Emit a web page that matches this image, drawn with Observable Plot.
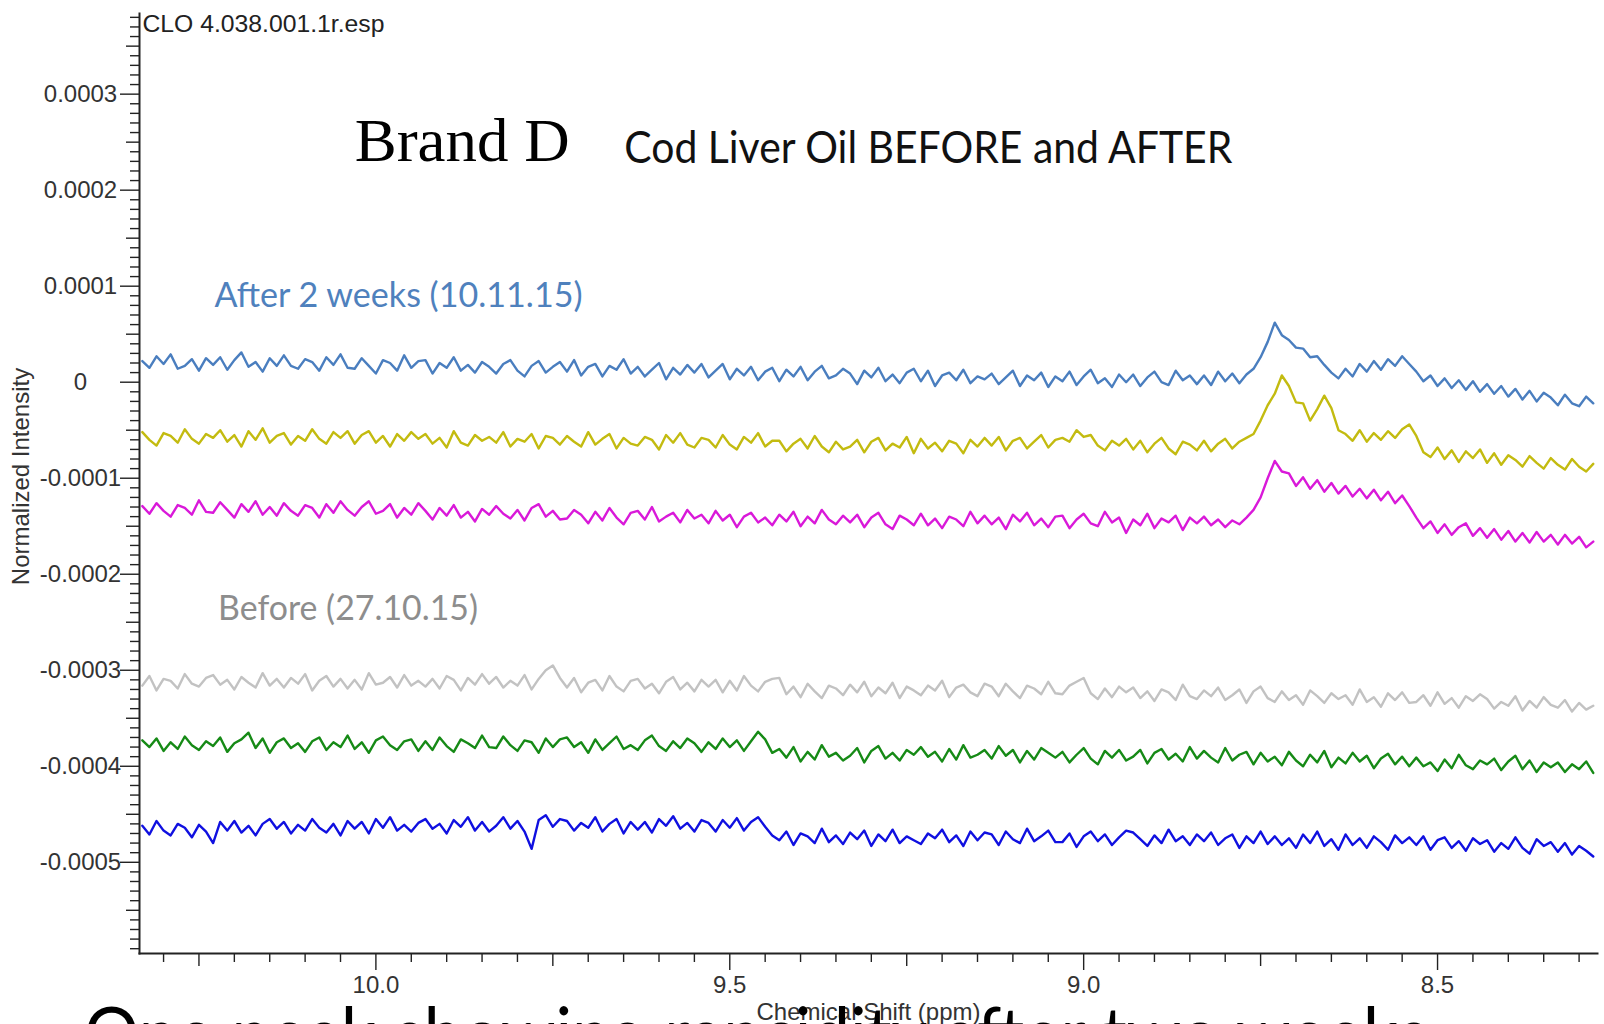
<!DOCTYPE html>
<html>
<head>
<meta charset="utf-8">
<script src="https://cdn.jsdelivr.net/npm/d3@7"></script>
<script src="https://cdn.jsdelivr.net/npm/@observablehq/plot@0.6"></script>
<style>
  html, body { margin: 0; padding: 0; background: #fff; }
  body { width: 1604px; height: 1024px; overflow: hidden; }
  #chart svg { display: block; }
  #caption { font-family: Lato, "Open Sans", sans-serif; font-size: 74px; line-height: 40px; height: 40px; color: #000;
             white-space: nowrap; margin-top: -12px; padding-left: 84px; position: relative; }
  #caption span { display: inline-block; transform-origin: 0 0; line-height: 40px; }
</style>
</head>
<body>
<div id="chart"></div>
<div id="caption"><span>One peak showing rancidity after two weeks</span></div>
<script>
// ---- chemical shift grid (ppm) ----
const ppm = [
  10.33,10.32,10.31,10.30,10.29,10.28,10.27,10.26,10.25,10.24,
  10.23,10.22,10.21,10.20,10.19,10.18,10.17,10.16,10.15,10.14,
  10.13,10.12,10.11,10.10,10.09,10.08,10.07,10.06,10.05,10.04,
  10.03,10.02,10.01,10.00,9.99,9.98,9.97,9.96,9.95,9.94,
  9.93,9.92,9.91,9.90,9.89,9.88,9.87,9.86,9.85,9.84,
  9.83,9.82,9.81,9.80,9.79,9.78,9.77,9.76,9.75,9.74,
  9.73,9.72,9.71,9.70,9.69,9.68,9.67,9.66,9.65,9.64,
  9.63,9.62,9.61,9.60,9.59,9.58,9.57,9.56,9.55,9.54,
  9.53,9.52,9.51,9.50,9.49,9.48,9.47,9.46,9.45,9.44,
  9.43,9.42,9.41,9.40,9.39,9.38,9.37,9.36,9.35,9.34,
  9.33,9.32,9.31,9.30,9.29,9.28,9.27,9.26,9.25,9.24,
  9.23,9.22,9.21,9.20,9.19,9.18,9.17,9.16,9.15,9.14,
  9.13,9.12,9.11,9.10,9.09,9.08,9.07,9.06,9.05,9.04,
  9.03,9.02,9.01,9.00,8.99,8.98,8.97,8.96,8.95,8.94,
  8.93,8.92,8.91,8.90,8.89,8.88,8.87,8.86,8.85,8.84,
  8.83,8.82,8.81,8.80,8.79,8.78,8.77,8.76,8.75,8.74,
  8.73,8.72,8.71,8.70,8.69,8.68,8.67,8.66,8.65,8.64,
  8.63,8.62,8.61,8.60,8.59,8.58,8.57,8.56,8.55,8.54,
  8.53,8.52,8.51,8.50,8.49,8.48,8.47,8.46,8.45,8.44,
  8.43,8.42,8.41,8.40,8.39,8.38,8.37,8.36,8.35,8.34,
  8.33,8.32,8.31,8.30,8.29,8.28
];

// ---- normalized intensity, in units of 1e-6 ----
const afterTrace1 = [
  22,15,27,19,29,14,17,24,12,25,
  18,26,13,23,31,16,21,11,25,17,
  28,17,14,24,21,12,26,18,29,15,
  14,25,17,9,23,20,12,28,15,22,
  23,9,20,15,26,12,18,10,21,16,
  9,19,23,12,6,17,22,10,16,21,
  11,23,7,16,19,6,17,13,24,9,
  16,6,13,20,3,15,8,18,10,19,
  5,12,19,3,14,7,16,2,11,15,
  1,13,6,16,2,11,17,4,7,14,
  9,-2,12,5,15,1,8,-1,10,14,
  1,12,-4,7,10,2,13,-1,6,3,
  9,-2,5,12,-4,7,2,10,-5,6,
  1,11,-3,6,13,-1,4,-5,8,0,
  8,-4,5,11,0,-3,12,2,7,-2,
  7,-3,11,1,9,-1,8,14,26,42,
  62,49,44,36,35,26,27,18,10,4,
  14,6,19,11,22,13,24,17,27,19,
  11,1,7,-4,4,-6,2,-8,1,-10,
  -2,-12,-4,-15,-7,-18,-9,-20,-11,-16,
  -24,-13,-22,-25,-15,-22
];
const afterTrace2 = [
  -52,-60,-66,-53,-56,-63,-49,-59,-64,-54,
  -58,-50,-62,-55,-67,-51,-60,-48,-63,-56,
  -53,-65,-56,-61,-49,-59,-64,-52,-58,-51,
  -64,-55,-51,-63,-56,-67,-54,-61,-52,-59,
  -54,-64,-58,-68,-51,-63,-66,-55,-61,-57,
  -63,-52,-67,-59,-62,-54,-69,-56,-58,-65,
  -56,-62,-67,-52,-65,-59,-54,-69,-58,-64,
  -66,-57,-60,-70,-55,-63,-53,-65,-68,-58,
  -60,-68,-55,-65,-70,-57,-63,-53,-67,-61,
  -61,-72,-64,-59,-69,-56,-67,-73,-62,-70,
  -67,-60,-73,-62,-58,-71,-64,-68,-57,-74,
  -59,-69,-63,-72,-61,-64,-74,-60,-67,-58,
  -66,-57,-71,-61,-58,-69,-62,-55,-68,-60,
  -58,-62,-50,-57,-55,-66,-71,-61,-66,-59,
  -70,-61,-73,-64,-58,-69,-75,-62,-65,-71,
  -61,-72,-64,-59,-69,-62,-58,-54,-40,-24,
  -12,7,-4,-21,-22,-40,-28,-14,-27,-50,
  -54,-61,-50,-62,-53,-60,-51,-58,-49,-44,
  -56,-73,-78,-68,-80,-71,-83,-72,-79,-70,
  -84,-74,-86,-76,-81,-88,-77,-84,-90,-79,
  -86,-91,-80,-88,-93,-85
];
const afterTrace3 = [
  -129,-137,-126,-134,-140,-128,-131,-138,-123,-135,
  -136,-125,-133,-141,-127,-135,-124,-138,-130,-139,
  -126,-134,-139,-128,-131,-141,-127,-136,-124,-133,
  -139,-130,-124,-137,-134,-127,-141,-131,-138,-126,
  -134,-143,-131,-139,-128,-141,-135,-145,-132,-138,
  -129,-137,-142,-133,-144,-131,-127,-140,-134,-143,
  -142,-133,-138,-147,-135,-144,-131,-141,-148,-136,
  -134,-143,-130,-145,-140,-136,-146,-133,-142,-138,
  -147,-134,-144,-138,-151,-140,-136,-146,-141,-149,
  -138,-145,-135,-150,-140,-147,-133,-143,-148,-139,
  -146,-138,-151,-141,-136,-148,-153,-139,-143,-149,
  -137,-149,-142,-152,-140,-143,-150,-135,-147,-139,
  -148,-141,-153,-138,-145,-136,-149,-142,-151,-140,
  -139,-152,-143,-137,-147,-150,-135,-146,-141,-157,
  -143,-149,-137,-152,-142,-146,-139,-154,-141,-147,
  -140,-149,-143,-151,-144,-148,-141,-133,-120,-100,
  -82,-93,-95,-108,-99,-111,-102,-114,-105,-116,
  -108,-119,-111,-121,-112,-123,-114,-126,-118,-129,
  -141,-152,-145,-157,-148,-159,-151,-147,-160,-152,
  -162,-153,-164,-155,-166,-157,-167,-156,-166,-159,
  -169,-159,-168,-161,-172,-166
];
const beforeTrace1 = [
  -316,-306,-321,-309,-311,-319,-304,-314,-317,-308,
  -305,-315,-310,-320,-307,-313,-318,-303,-316,-309,
  -318,-308,-314,-304,-321,-311,-306,-317,-309,-319,
  -310,-320,-303,-315,-313,-307,-318,-305,-316,-311,
  -317,-309,-319,-306,-310,-321,-308,-315,-304,-314,
  -307,-318,-311,-316,-305,-320,-309,-300,-295,-308,
  -318,-308,-323,-313,-310,-321,-306,-317,-322,-311,
  -309,-319,-314,-324,-312,-307,-320,-313,-322,-310,
  -317,-310,-323,-311,-321,-306,-316,-322,-312,-309,
  -308,-325,-317,-328,-314,-322,-329,-316,-319,-326,
  -315,-323,-312,-327,-318,-324,-313,-329,-317,-321,
  -326,-316,-321,-311,-328,-318,-315,-323,-327,-314,
  -317,-327,-314,-322,-329,-316,-319,-325,-312,-324,
  -325,-316,-312,-308,-324,-330,-319,-328,-317,-323,
  -318,-329,-322,-332,-320,-323,-331,-315,-327,-330,
  -321,-327,-318,-331,-326,-320,-334,-322,-317,-329,
  -333,-322,-331,-326,-336,-321,-327,-334,-324,-330,
  -326,-336,-320,-333,-328,-338,-324,-331,-323,-334,
  -333,-326,-337,-323,-335,-329,-339,-327,-332,-325,
  -330,-340,-333,-337,-327,-342,-332,-339,-328,-336,
  -339,-331,-343,-334,-341,-337
];
const beforeTrace2 = [
  -373,-380,-371,-384,-375,-382,-369,-378,-383,-374,
  -379,-370,-385,-376,-372,-365,-381,-371,-386,-375,
  -371,-381,-376,-385,-374,-370,-383,-375,-380,-368,
  -382,-375,-386,-373,-369,-378,-383,-374,-372,-384,
  -374,-383,-370,-379,-385,-372,-376,-381,-368,-380,
  -381,-369,-378,-384,-373,-375,-386,-371,-380,-372,
  -370,-380,-375,-386,-372,-383,-376,-369,-382,-378,
  -383,-373,-368,-379,-384,-374,-381,-371,-376,-385,
  -375,-382,-371,-380,-373,-384,-374,-364,-372,-386,
  -382,-391,-380,-395,-385,-393,-378,-390,-386,-394,
  -389,-381,-396,-384,-379,-392,-386,-394,-383,-388,
  -380,-390,-385,-395,-382,-393,-378,-391,-388,-383,
  -392,-379,-389,-383,-396,-384,-393,-381,-386,-391,
  -385,-396,-388,-381,-392,-398,-384,-391,-383,-394,
  -390,-383,-397,-386,-382,-393,-387,-395,-380,-392,
  -384,-391,-396,-381,-394,-388,-385,-398,-386,-395,
  -390,-399,-385,-394,-400,-388,-396,-384,-401,-391,
  -397,-386,-395,-389,-402,-392,-387,-398,-390,-400,
  -391,-400,-396,-405,-393,-402,-388,-399,-403,-394,
  -398,-392,-404,-395,-389,-403,-394,-406,-396,-401,
  -396,-406,-398,-403,-395,-407
];
const beforeTrace3 = [
  -462,-471,-457,-467,-472,-460,-464,-474,-461,-468,
  -480,-458,-467,-457,-469,-462,-472,-460,-455,-465,
  -458,-470,-461,-467,-455,-464,-469,-460,-472,-457,
  -465,-458,-470,-455,-464,-453,-467,-461,-468,-459,
  -455,-465,-460,-470,-456,-463,-453,-467,-458,-468,
  -462,-453,-465,-457,-468,-486,-456,-451,-463,-455,
  -457,-467,-459,-464,-453,-468,-460,-455,-470,-458,
  -466,-458,-469,-455,-462,-452,-465,-459,-468,-456,
  -459,-468,-456,-464,-454,-467,-458,-453,-463,-472,
  -477,-468,-482,-470,-473,-480,-465,-479,-472,-481,
  -469,-476,-467,-483,-471,-478,-466,-480,-473,-477,
  -481,-470,-475,-466,-479,-472,-483,-468,-477,-469,
  -471,-482,-468,-476,-480,-465,-478,-473,-467,-479,
  -479,-470,-484,-473,-468,-478,-471,-482,-474,-467,
  -469,-476,-483,-472,-480,-466,-478,-473,-482,-471,
  -478,-469,-482,-475,-471,-485,-473,-480,-468,-481,
  -473,-482,-475,-485,-471,-480,-468,-483,-476,-487,
  -471,-482,-475,-485,-473,-479,-487,-472,-480,-474,
  -482,-473,-487,-477,-474,-485,-478,-488,-475,-481,
  -477,-489,-480,-486,-474,-485,-491,-476,-483,-479,
  -489,-480,-492,-483,-488,-494
];

const seriesNames = ["After 2 weeks – A", "After 2 weeks – B", "After 2 weeks – C",
                     "Before – A", "Before – B", "Before – C"];
const seriesColors = ["#4a7ebf", "#c3bb10", "#d919d9", "#c2c2c2", "#168a16", "#1010e0"];
const seriesValues = [afterTrace1, afterTrace2, afterTrace3, beforeTrace1, beforeTrace2, beforeTrace3];

// ---- axis ticks ----
const yMajor = [0.0003, 0.0002, 0.0001, 0, -0.0001, -0.0002, -0.0003, -0.0004, -0.0005];
const yTickLabels = ["0.0003", "0.0002", "0.0001", "0", "-0.0001", "-0.0002", "-0.0003", "-0.0004", "-0.0005"];
const yMid = [0.00035, 0.00025, 0.00015, 0.00005, -0.00005, -0.00015, -0.00025, -0.00035, -0.00045, -0.00055];
const xMajor = [10.0, 9.5, 9.0, 8.5];
const xTickLabels = ["10.0", "9.5", "9.0", "8.5"];
const xMid = [10.25, 9.75, 9.25, 8.75];

// ---- annotations ----
const fileLabel = "CLO 4.038.001.1r.esp";
const titleMain = "Brand D";
const titleSub = "Cod Liver Oil BEFORE and AFTER";
const labelAfter = "After 2 weeks (10.11.15)";
const labelBefore = "Before (27.10.15)";
const notePpm = { main: 10.030, sub: 9.649, after: 10.228, before: 10.223 };
const noteVal = { main: 0.000230, sub: 0.000228, after: 0.0000783, before: -0.000248 };

// ---- build table ----
const rows = seriesValues.flatMap((vals, s) =>
  ppm.map((p, i) => ({ ppm: p, v: vals[i] * 1e-6, series: seriesNames[s] })));

const yMinor = d3.range(-59, 39).filter(i => i % 5 !== 0).map(i => i / 100000);
const xMinor = d3.range(166, 207).filter(i => i % 5 !== 0).map(i => i / 20);
const yLabel = new Map(yMajor.map((v, i) => [v, yTickLabels[i]]));
const xLabel = new Map(xMajor.map((v, i) => [v, xTickLabels[i]]));

const axisColor = "#222";
const plot = Plot.plot({
  width: 1604,
  height: 1024,
  marginLeft: 139,
  marginRight: 7,
  marginTop: 13,
  marginBottom: 71,
  style: { fontFamily: "'Liberation Sans', Arial, sans-serif", background: "#fff", color: "#333" },
  x: { domain: [10.334, 8.274], label: null },
  y: { domain: [-0.000595, 0.000384], label: null },
  color: { domain: seriesNames, range: seriesColors },
  marks: [
    Plot.axisY(yMinor, { tickSize: 9, fill: "none", stroke: axisColor, strokeWidth: 1.4, label: null }),
    Plot.axisY(yMid, { tickSize: 13, fill: "none", stroke: axisColor, strokeWidth: 1.4, label: null }),
    Plot.axisY(yMajor, { tickSize: 19, tickPadding: 40, textAnchor: "middle", tickFormat: d => yLabel.get(d),
      fontSize: 24, fill: "#333", stroke: axisColor, strokeWidth: 1.4, label: null }),
    Plot.axisX(xMinor, { tickSize: 9, fill: "none", stroke: axisColor, strokeWidth: 1.4, label: null }),
    Plot.axisX(xMid, { tickSize: 13, fill: "none", stroke: axisColor, strokeWidth: 1.4, label: null }),
    Plot.axisX(xMajor, { tickSize: 17, tickPadding: 5, tickFormat: d => xLabel.get(d),
      fontSize: 24, fill: "#333", stroke: axisColor, strokeWidth: 1.4, label: null }),
    Plot.frame({ anchor: "left", stroke: axisColor, strokeWidth: 2 }),
    Plot.frame({ anchor: "bottom", stroke: axisColor, strokeWidth: 2 }),
    Plot.line(rows, { x: "ppm", y: "v", z: "series", stroke: "series", strokeWidth: 2.4, strokeLinejoin: "round" }),
    Plot.text([fileLabel], { frameAnchor: "top-left", dx: 3, dy: 1, lineAnchor: "top", textAnchor: "start",
      fontSize: 24, fill: "#222" }),
    Plot.text(["Normalized Intensity"], { frameAnchor: "left", rotate: -90, dx: -111, dy: -7,
      lineAnchor: "bottom", textAnchor: "middle", fontSize: 24, fill: "#333" }),
    Plot.text(["Chemical Shift (ppm)"], { frameAnchor: "bottom", dy: 66, lineAnchor: "bottom",
      textAnchor: "middle", fontSize: 24, fill: "#333" }),
    Plot.text([titleMain], { x: () => notePpm.main, y: () => noteVal.main, textAnchor: "start", lineAnchor: "bottom",
      fontFamily: "'Liberation Serif', 'Times New Roman', serif", fontSize: 62, fill: "#000" }),
    Plot.text([titleSub], { x: () => notePpm.sub, y: () => noteVal.sub, textAnchor: "start", lineAnchor: "bottom",
      fontFamily: "Lato, 'Open Sans', sans-serif", fontSize: 44, fill: "#111" }),
    Plot.text([labelAfter], { x: () => notePpm.after, y: () => noteVal.after, textAnchor: "start", lineAnchor: "bottom",
      fontFamily: "Lato, 'Open Sans', sans-serif", fontSize: 34, fill: "#4f81bd" }),
    Plot.text([labelBefore], { x: () => notePpm.before, y: () => noteVal.before, textAnchor: "start", lineAnchor: "bottom",
      fontFamily: "Lato, 'Open Sans', sans-serif", fontSize: 34, fill: "#8d8d8d" })
  ]
});

document.getElementById("chart").append(plot);

// fit annotation widths to the reference
const fits = new Map([[titleMain, 215], [titleSub, 608], [labelAfter, 368], [labelBefore, 260], [fileLabel, 242]]);
plot.querySelectorAll("text").forEach(t => {
  const w = fits.get(t.textContent);
  if (w) { t.setAttribute("textLength", w); t.setAttribute("lengthAdjust", "spacingAndGlyphs"); }
});

// stretch caption to the reference width
const span = document.querySelector("#caption span");
const cw = span.getBoundingClientRect().width;
if (cw > 0) span.style.transform = `scaleX(${1344 / cw})`;
</script>
</body>
</html>
